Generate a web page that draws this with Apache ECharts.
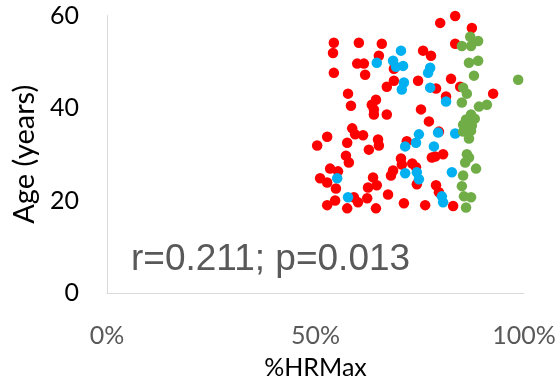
<!DOCTYPE html>
<html>
<head>
<meta charset="utf-8">
<script src="https://cdn.jsdelivr.net/npm/echarts@6/dist/echarts.min.js"></script>
<style>
  html, body { margin: 0; padding: 0; background: #ffffff; }
  #chart { width: 559px; height: 385px; }
</style>
</head>
<body>
<div id="chart"></div>
<script>
// Each point: [%HRMax, age in years]
const redPoints = [
  [54.4,54.1],[60.4,54.1],[65.9,53.9],[54.2,51.9],[65.2,51.3],[60.0,49.6],[61.6,49.6],
  [54.4,47.6],[61.9,47.2],[67.1,44.6],[57.8,43.1],[64.5,41.8],[63.5,40.7],[58.5,40.5],
  [64.0,39.7],[83.5,59.9],[79.9,58.4],[83.5,53.9],[75.8,52.4],[77.7,51.3],[68.8,48.5],
  [74.6,45.9],[68.8,45.9],[78.9,44.2],[82.5,46.3],[81.3,42.5],[75.3,39.7],[67.1,38.6],
  [87.5,57.3],[84.7,44.6],[92.6,43.1],[64.0,38.6],[58.8,35.6],[59.5,34.3],[61.4,34.1],
  [52.8,33.8],[50.4,31.9],[57.6,32.5],[65.0,33.2],[65.2,31.9],[62.8,31.0],[57.3,29.7],
  [58.0,28.2],[53.5,26.9],[55.4,26.3],[51.1,24.8],[52.8,23.9],[54.9,22.6],[63.8,25.0],
  [62.6,22.8],[64.7,23.3],[59.2,20.7],[60.2,19.6],[62.4,20.5],[54.7,20.0],[52.8,19.0],
  [57.6,18.3],[64.5,18.3],[67.4,21.3],[77.2,37.1],[79.6,34.9],[71.9,32.8],[77.9,29.3],
  [78.7,29.5],[80.6,30.0],[70.5,29.1],[70.7,27.8],[73.2,28.0],[74.1,27.2],[68.6,26.5],
  [68.1,25.4],[74.3,23.5],[78.9,23.3],[79.6,21.8],[83.0,18.8],[71.2,19.4],[76.3,19.0]
];
const bluePoints = [
  [64.7,49.8],[70.5,52.4],[68.6,50.2],[69.3,48.9],[71.0,49.1],[77.5,48.7],[77.0,47.6],
  [71.2,45.5],[70.7,44.0],[77.5,44.4],[81.3,41.4],[55.2,24.8],[57.8,20.7],[79.4,34.7],
  [83.5,34.5],[74.8,34.3],[74.1,32.5],[71.5,31.7],[78.4,31.7],[71.5,25.9],[74.3,26.1],
  [74.8,24.6],[82.7,26.1],[80.3,20.9],[80.6,19.6]
];
const greenPoints = [
  [87.1,55.4],[89.0,54.5],[85.1,53.4],[87.3,53.4],[86.8,49.8],[89.0,50.2],[88.0,47.0],
  [98.6,46.1],[85.4,44.4],[86.3,43.1],[85.1,41.2],[89.2,40.3],[91.1,40.7],[87.3,38.6],
  [86.1,37.5],[88.2,37.7],[85.4,36.4],[87.5,36.2],[85.4,34.9],[87.3,35.1],[86.8,33.4],
  [86.3,30.0],[86.8,29.3],[85.9,28.2],[88.5,26.9],[85.4,25.4],[85.1,23.1],[85.6,20.9],
  [87.3,20.7],[86.1,18.5]
];
const xTicks = [0, 50, 100];
const yTicks = [0, 20, 40, 60];
const statText = 'r=0.211; p=0.013';

const axisFont = 'Lato, "Open Sans", sans-serif';

function dotSeries(name, data, color) {
  return {
    name: name,
    type: 'scatter',
    data: data,
    symbol: 'circle',
    symbolSize: 10.5,
    itemStyle: { color: color, opacity: 1 },
    emphasis: { disabled: true },
    silent: true,
    animation: false
  };
}

const chart = echarts.init(document.getElementById('chart'), null, { renderer: 'canvas' });
chart.setOption({
  animation: false,
  backgroundColor: '#ffffff',
  grid: { left: 107, right: 35, top: 15.5, bottom: 91.5, containLabel: false },
  xAxis: {
    type: 'value',
    min: xTicks[0],
    max: xTicks[xTicks.length - 1],
    interval: xTicks[1] - xTicks[0],
    name: '%HRMax',
    nameLocation: 'middle',
    nameGap: 62,
    nameTextStyle: { color: '#000000', fontSize: 25, fontFamily: axisFont },
    axisLine: { show: true, lineStyle: { color: '#d9d9d9', width: 1 } },
    axisTick: { show: false },
    splitLine: { show: false },
    axisLabel: {
      margin: 30,
      color: '#595959',
      fontSize: 25,
      fontFamily: axisFont,
      formatter: v => v + '%'
    }
  },
  yAxis: {
    type: 'value',
    min: yTicks[0],
    max: yTicks[yTicks.length - 1],
    interval: yTicks[1] - yTicks[0],
    name: 'Age (years)',
    nameLocation: 'middle',
    nameGap: 65,
    nameRotate: 90,
    nameTextStyle: { color: '#000000', fontSize: 29, fontFamily: axisFont },
    axisLine: { show: true, lineStyle: { color: '#d9d9d9', width: 1 } },
    axisTick: { show: false },
    splitLine: { show: false },
    axisLabel: {
      margin: 28,
      color: '#000000',
      fontSize: 25,
      fontFamily: axisFont
    }
  },
  graphic: [{
    type: 'text',
    left: 131,
    top: 241,
    style: {
      text: statText,
      fill: '#595959',
      font: '37px "Liberation Sans", Arial, sans-serif'
    }
  }],
  series: [
    dotSeries('Group 1', redPoints, '#ff0000'),
    dotSeries('Group 2', bluePoints, '#00b0f0'),
    dotSeries('Group 3', greenPoints, '#70ad47')
  ]
});
</script>
</body>
</html>
